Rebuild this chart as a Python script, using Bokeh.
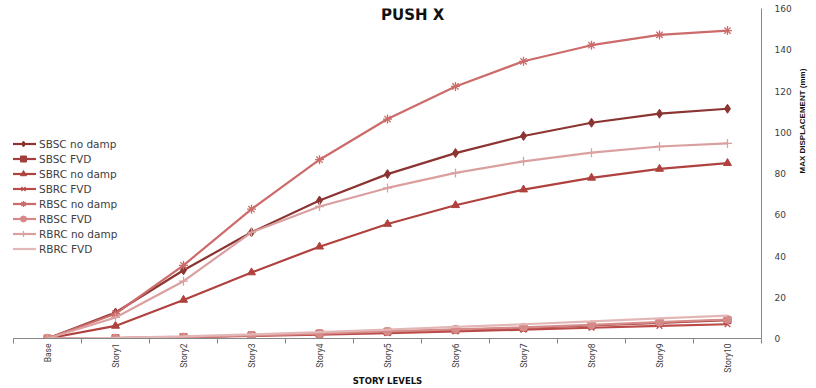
import math
from bokeh.plotting import figure
from bokeh.models import (FixedTicker, Range1d, Legend, LegendItem, Label, LinearAxis)
from bokeh.embed import file_html
from bokeh.resources import INLINE

stories = ["Base", "Story1", "Story2", "Story3", "Story4", "Story5",
           "Story6", "Story7", "Story8", "Story9", "Story10"]
y_ticks = [0, 20, 40, 60, 80, 100, 120, 140, 160]

sbsc_no_damp = [0, 12.6, 33.1, 51.5, 66.9, 79.7, 89.9, 98.2, 104.6, 109.0, 111.4]
sbsc_fvd     = [0, 0.2, 0.7, 1.5, 2.4, 3.3, 4.2, 5.1, 6.3, 7.6, 8.9]
sbrc_no_damp = [0, 6.1, 18.7, 32.0, 44.5, 55.5, 64.6, 72.2, 77.9, 82.2, 85.0]
sbrc_fvd     = [0, 0.2, 0.6, 1.2, 1.9, 2.6, 3.4, 4.3, 5.2, 6.1, 6.9]
rbsc_no_damp = [0, 12.0, 35.5, 62.7, 86.7, 106.4, 122.2, 134.4, 142.2, 147.2, 149.3]
rbsc_fvd     = [0, 0.2, 0.7, 1.5, 2.4, 3.4, 4.4, 5.4, 6.6, 7.9, 9.2]
rbrc_no_damp = [0, 10.2, 27.8, 51.5, 64.0, 73.0, 80.3, 85.9, 90.1, 93.1, 94.6]
rbrc_fvd     = [0, 0.3, 1.0, 2.0, 3.1, 4.3, 5.6, 6.9, 8.3, 9.8, 11.1]

series = [
    ("SBSC no damp", sbsc_no_damp, "#8B3432", "diamond", 9),
    ("SBSC FVD", sbsc_fvd, "#A23E3C", "square", 7),
    ("SBRC no damp", sbrc_no_damp, "#AF423F", "triangle", 8),
    ("SBRC FVD", sbrc_fvd, "#BC4A48", "x", 8),
    ("RBSC no damp", rbsc_no_damp, "#CC6B6A", "asterisk", 9),
    ("RBSC FVD", rbsc_fvd, "#D68A88", "circle", 8),
    ("RBRC no damp", rbrc_no_damp, "#DAA09F", "cross", 9),
    ("RBRC FVD", rbrc_fvd, "#E3B7B6", None, 0),
]

idx = list(range(len(stories)))

p = figure(width=816, height=388, output_backend="svg", toolbar_location=None,
           x_range=Range1d(-0.5, len(stories) - 0.5), y_range=Range1d(0, 160),
           y_axis_location="right",
           min_border_left=13, min_border_right=55, min_border_top=8,
           min_border_bottom=48)
p.xgrid.visible = False
p.ygrid.visible = False
p.outline_line_color = None
p.background_fill_color = "white"

items = []
for name, vals, color, marker, size in series:
    rs = [p.line(idx, vals, line_color=color, line_width=2.2)]
    if marker:
        if marker in ("x", "asterisk", "cross"):
            rs.append(p.scatter(idx, vals, marker=marker, size=size,
                                line_color=color, line_width=1.3))
        else:
            rs.append(p.scatter(idx, vals, marker=marker, size=size,
                                fill_color=color, line_color=color))
    items.append(LegendItem(label=name, renderers=rs))

legend = Legend(items=items, location=(-3, 82), glyph_width=26, glyph_height=15,
                label_height=15, spacing=0, padding=0, margin=0,
                border_line_color=None, background_fill_alpha=0,
                label_standoff=3, label_text_font="DejaVu Sans",
                label_text_font_size="10.5px", label_text_color="#404040")
p.add_layout(legend)

xa = p.xaxis[0]
xa.ticker = FixedTicker(ticks=idx, minor_ticks=[i - 0.5 for i in range(len(stories) + 1)])
xa.major_label_overrides = {i: s for i, s in enumerate(stories)}
xa.major_label_orientation = math.pi / 2
xa.major_tick_out = 0
xa.major_tick_in = 0
xa.minor_tick_out = 5
xa.minor_tick_in = 0
xa.minor_tick_line_color = "#868686"
xa.axis_line_color = "#868686"
xa.major_label_standoff = 0
xa.major_label_text_font = "Roboto"
xa.major_label_text_font_size = "8.5px"
xa.major_label_text_color = "#404040"
xa.axis_label = "STORY LEVELS"
xa.axis_label_text_font = "DejaVu Sans"
xa.axis_label_text_font_style = "bold"
xa.axis_label_text_font_size = "8.5px"
xa.axis_label_text_color = "#111111"
xa.axis_label_standoff = 0

ya = p.yaxis[0]
ya.ticker = FixedTicker(ticks=y_ticks, minor_ticks=[])
ya.major_tick_out = 0
ya.major_tick_in = 0
ya.axis_line_color = "#868686"
ya.major_label_standoff = 13
ya.major_label_text_font = "DejaVu Sans"
ya.major_label_text_font_size = "9px"
ya.major_label_text_color = "#404040"

# separate, mark-free axis that only carries the vertical title
ya2 = LinearAxis(bounds=(0, 82), ticker=FixedTicker(ticks=[], minor_ticks=[]),
                 axis_line_color=None, major_tick_line_color=None,
                 minor_tick_line_color=None, major_label_text_font_size="0px",
                 major_label_standoff=0, major_tick_out=0, major_tick_in=0,
                 minor_tick_out=0, minor_tick_in=0,
                 axis_label="MAX DISPLACEMENT (mm)",
                 axis_label_text_font="Liberation Sans",
                 axis_label_text_font_style="bold",
                 axis_label_text_font_size="8px",
                 axis_label_text_color="#111111",
                 axis_label_standoff=8)
if hasattr(ya2, "axis_label_orientation"):
    ya2.axis_label_orientation = math.pi / 2
p.add_layout(ya2, "right")

title = Label(x=5.37, y=157, text="PUSH X", text_font="DejaVu Sans",
              text_font_style="bold", text_font_size="15px",
              text_align="center", text_baseline="middle", text_color="#111111")
p.add_layout(title)

open("out.html", "w").write(file_html(p, INLINE))
